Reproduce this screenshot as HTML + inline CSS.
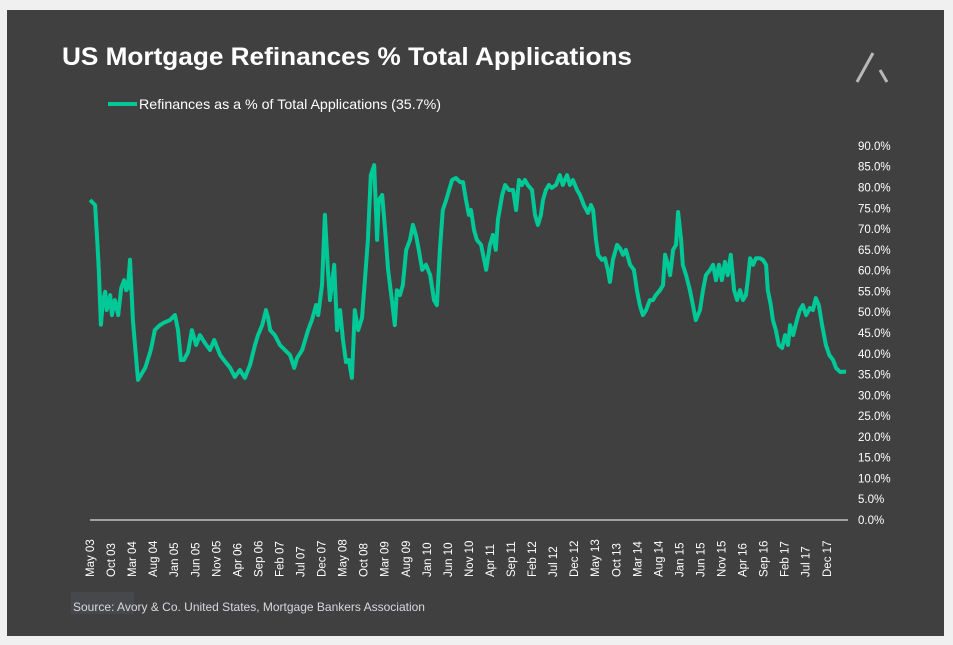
<!DOCTYPE html>
<html><head><meta charset="utf-8"><style>
html,body{margin:0;padding:0;background:#f0f0f0;}
svg{display:block;font-family:"Liberation Sans",sans-serif;}
</style></head><body>
<svg width="953" height="645" viewBox="0 0 953 645">
<rect x="7" y="10" width="937" height="626" fill="#404040"/>
<text x="62" y="65" fill="#fff" font-size="25" font-weight="bold" textLength="570" lengthAdjust="spacingAndGlyphs">US Mortgage Refinances % Total Applications</text>
<g><line x1="857" y1="82" x2="873" y2="53" stroke="#b8b8b8" stroke-width="3"/><line x1="880" y1="70" x2="887" y2="82" stroke="#b8b8b8" stroke-width="3"/></g>
<g><line x1="108" y1="104" x2="137" y2="104" stroke="#00c896" stroke-width="4"/><text x="139" y="109" fill="#fff" font-size="14" textLength="302" lengthAdjust="spacingAndGlyphs">Refinances as a % of Total Applications (35.7%)</text></g>
<line x1="90" y1="520" x2="848" y2="520" stroke="#fff" stroke-width="1"/>
<g id="yt"></g><g id="xt"></g>
<path id="ln" fill="none" stroke="#00c896" stroke-width="4" stroke-linejoin="round"/>
<rect x="71" y="592" width="63" height="22" fill="#46484b"/>
<text x="73" y="611" fill="#d8d8e0" font-size="12">Source: Avory &amp; Co.  United States, Mortgage Bankers Association</text>
</svg>
<script>
const monthOffsets=[0,1.2,1.7,2.1,2.6,3.1,3.6,4.0,4.8,5.2,5.9,6.7,7.4,8.1,8.6,9.0,9.5,10.2,10.7,11.4,12.1,13.1,14.3,14.7,15.4,16.6,17.8,19.0,20.2,20.9,21.6,22.3,23.3,24.2,25.2,26.1,27.3,28.5,29.5,30.9,31.8,33.3,34.4,35.6,36.8,38.0,39.2,39.9,40.9,41.8,42.3,42.8,43.9,45.1,46.3,47.5,48.5,49.2,50.4,51.8,52.7,53.7,54.2,55.1,55.8,56.5,57.0,58.0,58.7,59.4,60.1,60.8,61.5,62.2,62.9,63.7,64.6,65.3,66.0,66.7,67.5,68.2,68.6,69.4,70.1,70.8,71.7,72.4,72.9,73.6,74.3,75.1,76.0,76.7,77.4,78.1,78.9,79.8,80.8,81.7,82.4,83.1,83.8,84.6,85.3,86.0,86.9,87.9,88.6,89.3,90.0,90.5,91.2,91.9,92.9,94.1,95.0,95.7,96.4,96.9,97.9,98.6,99.5,100.5,101.2,101.9,102.6,103.3,104.0,105.0,105.7,106.4,107.1,107.6,108.3,109.0,109.7,110.7,111.6,112.3,113.3,114.0,114.7,115.7,116.4,117.3,118.3,119.0,119.5,120.2,120.7,121.6,122.3,123.0,123.5,124.2,125.2,125.9,126.6,127.3,128.3,129.2,129.9,130.6,131.3,132.1,133.0,133.7,134.4,135.4,136.1,136.6,137.3,137.8,138.5,139.2,139.7,140.4,140.8,141.6,142.5,143.2,143.9,144.9,145.6,146.3,147.3,148.0,148.7,149.4,150.1,150.8,151.5,152.2,153.0,153.7,154.4,155.1,155.8,156.3,156.8,157.5,158.2,159.1,159.8,160.6,161.0,161.7,162.2,162.9,163.6,164.4,165.1,165.8,166.3,167.0,167.9,168.6,169.3,170.1,171.0,171.7,172.4,173.1,173.9,174.8,175.6,176.5,177.2,178.2,179.6];
const refiPct=[77.0,75.8,67.4,60.2,47.0,52.9,54.9,50.5,54.1,49.3,52.9,49.3,55.8,57.7,55.3,55.8,62.6,48.1,42.1,33.7,34.9,36.6,40.4,42.1,45.7,46.9,47.6,48.1,49.3,45.7,38.5,38.5,40.4,45.7,42.1,44.5,42.6,40.9,43.3,39.7,38.5,36.6,34.4,36.1,34.2,37.3,42.1,44.5,46.9,50.5,48.6,45.7,44.5,42.1,40.9,39.7,36.6,39.0,40.9,45.7,48.1,51.7,49.3,56.5,73.4,60.2,52.9,61.4,45.7,50.5,43.3,38.0,38.5,34.2,50.5,45.7,48.6,57.7,67.4,83.0,85.4,67.4,77.0,78.2,69.8,60.2,52.9,46.9,55.3,54.1,56.5,65.0,67.4,71.0,68.6,65.0,60.2,61.4,58.9,52.9,51.7,65.0,74.6,77.0,79.4,81.8,82.3,81.3,81.3,77.0,73.4,74.6,69.8,67.4,66.2,60.2,66.2,68.6,65.0,72.2,78.2,80.6,79.4,79.4,74.6,81.8,80.6,81.8,80.6,79.4,73.4,71.0,73.4,77.0,79.4,80.6,79.9,80.6,83.0,80.6,83.0,80.6,81.8,79.4,78.2,75.8,73.9,75.8,74.6,67.4,63.8,62.6,63.0,60.2,57.3,62.6,66.2,65.4,63.8,65.0,61.4,60.2,55.3,51.7,49.3,50.5,52.9,52.9,54.1,55.3,56.5,63.8,61.4,58.9,65.0,66.2,74.1,67.4,61.4,58.9,55.3,51.7,48.1,50.5,55.3,58.9,60.2,61.4,57.7,61.4,57.7,62.1,58.9,63.8,55.3,52.9,55.3,52.9,54.1,58.2,63.0,61.4,63.0,63.0,62.6,61.4,55.3,51.7,48.1,45.7,42.1,41.4,44.5,42.1,46.9,44.5,48.1,50.5,51.7,49.3,51.0,50.5,53.4,51.7,46.9,42.1,39.7,38.5,36.6,35.6,35.7];
const yTicks=[0,5,10,15,20,25,30,35,40,45,50,55,60,65,70,75,80,85,90];
const xLabels=["May 03","Oct 03","Mar 04","Aug 04","Jan 05","Jun 05","Nov 05","Apr 06","Sep 06","Feb 07","Jul 07","Dec 07","May 08","Oct 08","Mar 09","Aug 09","Jan 10","Jun 10","Nov 10","Apr 11","Sep 11","Feb 12","Jul 12","Dec 12","May 13","Oct 13","Mar 14","Aug 14","Jan 15","Jun 15","Nov 15","Apr 16","Sep 16","Feb 17","Jul 17","Dec 17"];
const xLabelStep=5;
const NS="http://www.w3.org/2000/svg";
function xS(m){return 90+m*4.21;}
function yS(v){return 520-v*4.156;}
const yt=document.getElementById('yt');
yTicks.forEach(v=>{const t=document.createElementNS(NS,'text');


t.setAttribute('x',858);t.setAttribute('y',yS(v)+4);t.setAttribute('fill','#fff');t.setAttribute('font-size','11.5');
t.textContent=v.toFixed(1)+'%';yt.appendChild(t);});
const xt=document.getElementById('xt');
xLabels.forEach((l,i)=>{const x=xS(i*xLabelStep)+4;const t=document.createElementNS(NS,'text');


t.setAttribute('transform',`translate(${x},577) rotate(-90)`);t.setAttribute('fill','#fff');t.setAttribute('font-size','11.5');
t.textContent=l;xt.appendChild(t);});
document.getElementById('ln').setAttribute('d',monthOffsets.map((m,i)=>(i?'L':'M')+xS(m).toFixed(1)+','+yS(refiPct[i]).toFixed(1)).join(''));
</script>
</body></html>
